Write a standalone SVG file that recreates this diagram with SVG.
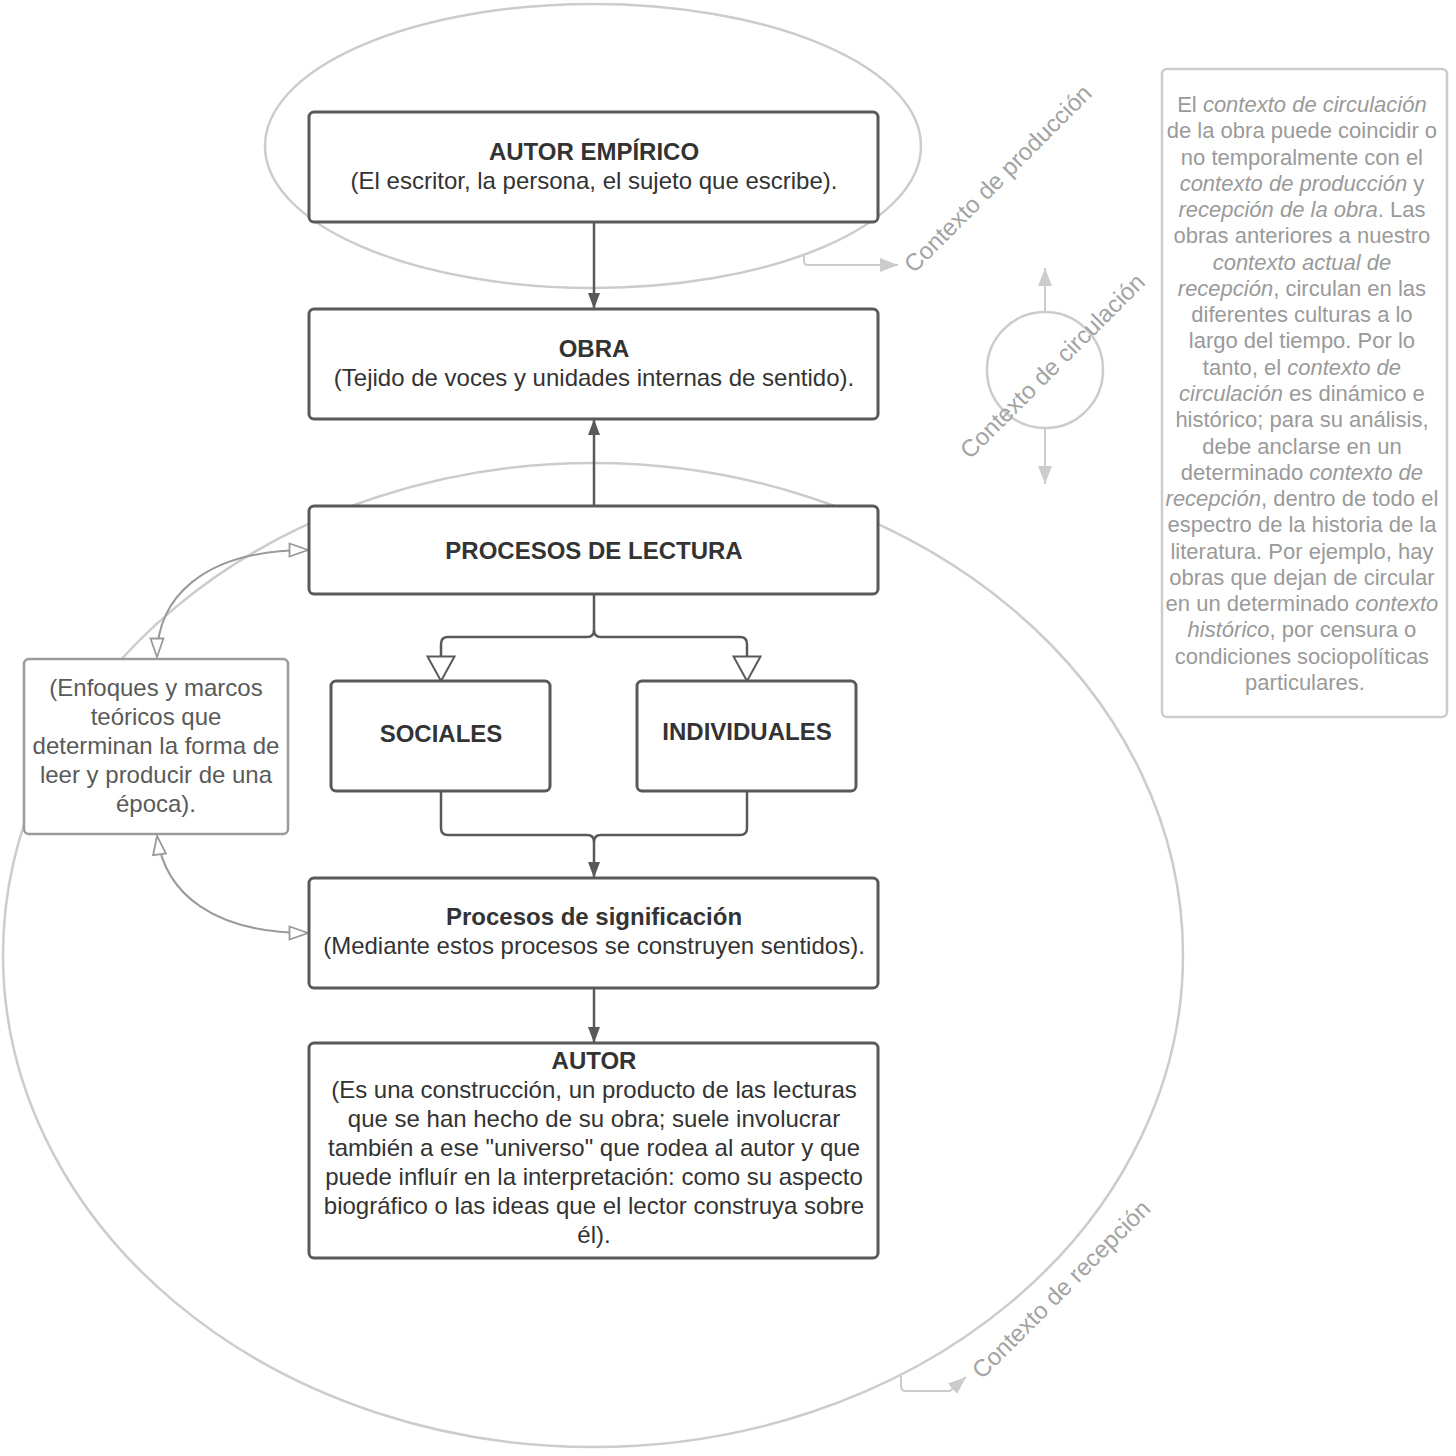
<svg xmlns="http://www.w3.org/2000/svg" width="1456" height="1456" viewBox="0 0 1456 1456">
<style>
.ctx{fill:none;stroke:#cccccc;stroke-width:2.5}
.box{fill:#ffffff;stroke:#595959;stroke-width:3}
.lbox{fill:#ffffff;stroke:#9a9a9a;stroke-width:2.5}
.rbox{fill:#ffffff;stroke:#cccccc;stroke-width:2.5}
.t{font-family:"Liberation Sans",Arial,sans-serif;font-size:24px;fill:#333333;text-anchor:middle}
.b{font-weight:bold}
.lt{font-family:"Liberation Sans",Arial,sans-serif;font-size:24px;fill:#5a5a5a;text-anchor:middle}
.rt{font-family:"Liberation Sans",Arial,sans-serif;font-size:22px;fill:#9a9a9a;text-anchor:middle}
.it{font-style:italic}
.rot{font-family:"Liberation Sans",Arial,sans-serif;font-size:24px;fill:#a3a3a3}
.dk{fill:none;stroke:#595959;stroke-width:2.5}
.gy{fill:none;stroke:#9a9a9a;stroke-width:2}
.lg{fill:none;stroke:#cccccc;stroke-width:2}
</style>
<defs>
<marker id="aDark" viewBox="0 0 16 12" refX="16" refY="6" markerWidth="16" markerHeight="12" markerUnits="userSpaceOnUse" orient="auto">
<path d="M0,0 L16,6 L0,12 z" fill="#595959"/>
</marker>
<marker id="aOpen" viewBox="0 0 28 30" refX="26" refY="15" markerWidth="28" markerHeight="30" markerUnits="userSpaceOnUse" orient="auto">
<path d="M1.5,1.5 L26,15 L1.5,28.5 z" fill="#ffffff" stroke="#595959" stroke-width="2"/>
</marker>
<marker id="aGray" viewBox="0 0 22 16" refX="20" refY="8" markerWidth="22" markerHeight="16" markerUnits="userSpaceOnUse" orient="auto-start-reverse">
<path d="M1.5,1.5 L20,8 L1.5,14.5 z" fill="#ffffff" stroke="#9a9a9a" stroke-width="1.8"/>
</marker>
<marker id="aLight" viewBox="0 0 18 14" refX="18" refY="7" markerWidth="18" markerHeight="14" markerUnits="userSpaceOnUse" orient="auto">
<path d="M0,0 L18,7 L0,14 z" fill="#cccccc"/>
</marker>
</defs>

<g id="contexts">
<ellipse class="ctx" cx="593" cy="146" rx="328" ry="142"/>
<ellipse class="ctx" cx="593" cy="955" rx="590" ry="492"/>
<circle class="ctx" cx="1045" cy="370" r="58"/>
</g>

<g id="connectors">
<path class="dk" d="M594,222 V309" marker-end="url(#aDark)"/>
<path class="dk" d="M594,506 V419" marker-end="url(#aDark)"/>
<path class="dk" d="M594,594 V630 Q594,637 587,637 H448 Q441,637 441,644 V681" marker-end="url(#aOpen)"/>
<path class="dk" d="M594,630 Q594,637 601,637 H740 Q747,637 747,644 V681" marker-end="url(#aOpen)"/>
<path class="dk" d="M441,791 V828 Q441,835 448,835 H587 Q594,835 594,842 V878" marker-end="url(#aDark)"/>
<path class="dk" d="M747,791 V828 Q747,835 740,835 H601 Q594,835 594,842"/>
<path class="dk" d="M594,988 V1043" marker-end="url(#aDark)"/>
<path class="gy" d="M157,657 C157,600 200,550 308,550" marker-start="url(#aGray)" marker-end="url(#aGray)"/>
<path class="gy" d="M157,836 C165,895 215,933 308,933" marker-start="url(#aGray)" marker-end="url(#aGray)"/>
<path class="lg" d="M804,254 V261 Q804,265 808,265 H898" marker-end="url(#aLight)"/>
<path class="lg" d="M1045,312 V268" marker-end="url(#aLight)"/>
<path class="lg" d="M1045,428 V484" marker-end="url(#aLight)"/>
<path class="lg" d="M901,1376 V1386 Q901,1391 906,1391 H950 L966,1377" marker-end="url(#aLight)"/>
</g>

<g id="autor-empirico">
<rect class="box" x="309" y="112" width="569" height="110" rx="5"/>
<text class="t"><tspan class="b" x="594" y="160">AUTOR EMPÍRICO</tspan><tspan x="594" y="189">(El escritor, la persona, el sujeto que escribe).</tspan></text>
</g>

<g id="obra">
<rect class="box" x="309" y="309" width="569" height="110" rx="5"/>
<text class="t"><tspan class="b" x="594" y="357">OBRA</tspan><tspan x="594" y="386">(Tejido de voces y unidades internas de sentido).</tspan></text>
</g>

<g id="procesos-lectura">
<rect class="box" x="309" y="506" width="569" height="88" rx="5"/>
<text class="t b" x="594" y="559">PROCESOS DE LECTURA</text>
</g>

<g id="sociales">
<rect class="box" x="331" y="681" width="219" height="110" rx="5"/>
<text class="t b" x="441" y="742">SOCIALES</text>
</g>

<g id="individuales">
<rect class="box" x="637" y="681" width="219" height="110" rx="5"/>
<text class="t b" x="747" y="740">INDIVIDUALES</text>
</g>

<g id="procesos-significacion">
<rect class="box" x="309" y="878" width="569" height="110" rx="5"/>
<text class="t"><tspan class="b" x="594" y="925">Procesos de significación</tspan><tspan x="594" y="954">(Mediante estos procesos se construyen sentidos).</tspan></text>
</g>

<g id="autor">
<rect class="box" x="309" y="1043" width="569" height="215" rx="5"/>
<text class="t"><tspan class="b" x="594" y="1069">AUTOR</tspan><tspan x="594" y="1098">(Es una construcción, un producto de las lecturas</tspan><tspan x="594" y="1127">que se han hecho de su obra; suele involucrar</tspan><tspan x="594" y="1156">también a ese "universo" que rodea al autor y que</tspan><tspan x="594" y="1185">puede influír en la interpretación: como su aspecto</tspan><tspan x="594" y="1214">biográfico o las ideas que el lector construya sobre</tspan><tspan x="594" y="1243">él).</tspan></text>
</g>

<g id="enfoques">
<rect class="lbox" x="24" y="659" width="264" height="175" rx="5"/>
<text class="lt"><tspan x="156" y="696">(Enfoques y marcos</tspan><tspan x="156" y="725">teóricos que</tspan><tspan x="156" y="754">determinan la forma de</tspan><tspan x="156" y="783">leer y producir de una</tspan><tspan x="156" y="812">época).</tspan></text>
</g>

<g id="nota-circulacion">
<rect class="rbox" x="1162" y="69" width="285" height="648" rx="5"/>
<text class="rt">
<tspan x="1305" y="112">El <tspan class="it">contexto de circulación</tspan></tspan>
<tspan x="1305" y="138">de la obra puede coincidir o</tspan>
<tspan x="1305" y="165">no temporalmente con el</tspan>
<tspan x="1305" y="191"><tspan class="it">contexto de producción</tspan> y</tspan>
<tspan x="1305" y="217"><tspan class="it">recepción de la obra</tspan>. Las</tspan>
<tspan x="1305" y="243">obras anteriores a nuestro</tspan>
<tspan x="1305" y="270"><tspan class="it">contexto actual de</tspan></tspan>
<tspan x="1305" y="296"><tspan class="it">recepción</tspan>, circulan en las</tspan>
<tspan x="1305" y="322">diferentes culturas a lo</tspan>
<tspan x="1305" y="348">largo del tiempo. Por lo</tspan>
<tspan x="1305" y="375">tanto, el <tspan class="it">contexto de</tspan></tspan>
<tspan x="1305" y="401"><tspan class="it">circulación</tspan> es dinámico e</tspan>
<tspan x="1305" y="427">histórico; para su análisis,</tspan>
<tspan x="1305" y="454">debe anclarse en un</tspan>
<tspan x="1305" y="480">determinado <tspan class="it">contexto de</tspan></tspan>
<tspan x="1305" y="506"><tspan class="it">recepción</tspan>, dentro de todo el</tspan>
<tspan x="1305" y="532">espectro de la historia de la</tspan>
<tspan x="1305" y="559">literatura. Por ejemplo, hay</tspan>
<tspan x="1305" y="585">obras que dejan de circular</tspan>
<tspan x="1305" y="611">en un determinado <tspan class="it">contexto</tspan></tspan>
<tspan x="1305" y="637"><tspan class="it">histórico</tspan>, por censura o</tspan>
<tspan x="1305" y="664">condiciones sociopolíticas</tspan>
<tspan x="1305" y="690">particulares.</tspan>
</text>
</g>

<g id="labels">
<text class="rot" transform="translate(914,274) rotate(-45)">Contexto de producción</text>
<text class="rot" transform="translate(970,460) rotate(-45)">Contexto de circulación</text>
<text class="rot" transform="translate(982,1380) rotate(-45)">Contexto de recepción</text>
</g>
</svg>
